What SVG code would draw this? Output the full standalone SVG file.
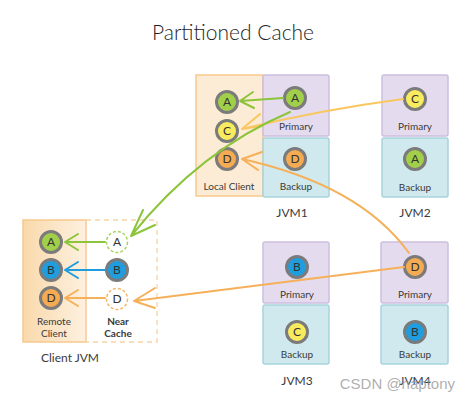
<svg xmlns="http://www.w3.org/2000/svg" width="468" height="403" viewBox="0 0 468 403">
<defs>
<style>
.t{font-family:Lato,"Open Sans","Liberation Sans",sans-serif;fill:#3a3a3a;text-anchor:middle}
.lbl{font-size:10px}
.jvm{font-size:12px}
.ltr{font-size:12px;fill:#333;font-family:Lato,"Open Sans","Liberation Sans",sans-serif;text-anchor:middle}
.pri{fill:#e4dcee;stroke:#cbbfe0;stroke-width:1.5}
.bak{fill:#cfe9ee;stroke:#a6d3dc;stroke-width:1.5}
.loc{fill:#fdecd5;stroke:#f8c98e;stroke-width:1.5}
.ring{stroke:#7b7b7b;stroke-width:3}
.g{fill:#a2cf4a}.y{fill:#f8ec5e}.o{fill:#f6ab52}.b{fill:#1f9ddf}
.ln{fill:none;stroke-width:2;stroke-linecap:round;stroke-linejoin:round}
.lg{stroke:#8cc43c}.ly{stroke:#f9c660}.lo{stroke:#f6b05a}.lb{stroke:#1f9ddf}
</style>
<linearGradient id="rc" x1="0" x2="1" y1="0" y2="0">
<stop offset="0" stop-color="#f9d9ab"/><stop offset="1" stop-color="#fdf1e0"/>
</linearGradient>
</defs>
<rect width="468" height="403" fill="#fff"/>
<text class="t" x="233" y="40" font-size="21" font-weight="300" style="fill:#1e1e1e">Partitioned Cache</text>

<g id="jvm1">
<rect class="loc" x="196" y="75" width="67" height="121"/>
<rect class="pri" x="263" y="75" width="66" height="61" rx="2"/>
<rect class="bak" x="263" y="138" width="66" height="59" rx="2"/>
<circle class="ring g" cx="227" cy="102" r="10.5"/><text class="ltr" x="227" y="106">A</text>
<circle class="ring y" cx="227" cy="131" r="10.5"/><text class="ltr" x="227" y="135">C</text>
<circle class="ring o" cx="227" cy="159" r="10.5"/><text class="ltr" x="227" y="163">D</text>
<circle class="ring g" cx="295" cy="98" r="10.5"/><text class="ltr" x="295" y="102">A</text>
<circle class="ring o" cx="295" cy="159" r="10.5"/><text class="ltr" x="295" y="163">D</text>
<text class="t lbl" x="296" y="130">Primary</text>
<text class="t lbl" x="296" y="190">Backup</text>
<text class="t lbl" x="229" y="190">Local Client</text>
<text class="t jvm" x="292" y="217">JVM1</text>
</g>

<g id="jvm2">
<rect class="pri" x="382" y="75" width="66" height="61" rx="2"/>
<rect class="bak" x="382" y="138" width="66" height="59" rx="2"/>
<circle class="ring y" cx="415" cy="99" r="10.5"/><text class="ltr" x="415" y="103">C</text>
<circle class="ring g" cx="415" cy="159" r="10.5"/><text class="ltr" x="415" y="163">A</text>
<text class="t lbl" x="415" y="130">Primary</text>
<text class="t lbl" x="415" y="191">Backup</text>
<text class="t jvm" x="415" y="217">JVM2</text>
</g>

<g id="jvm3">
<rect class="pri" x="263" y="242" width="66" height="61" rx="2"/>
<rect class="bak" x="263" y="305" width="66" height="59" rx="2"/>
<circle class="ring b" cx="297" cy="267" r="10.5"/><text class="ltr" x="297" y="271">B</text>
<circle class="ring y" cx="297" cy="332" r="10.5"/><text class="ltr" x="297" y="336">C</text>
<text class="t lbl" x="297" y="298">Primary</text>
<text class="t lbl" x="297" y="358">Backup</text>
<text class="t jvm" x="297" y="385">JVM3</text>
</g>

<g id="jvm4">
<rect class="pri" x="381" y="242" width="67" height="61" rx="2"/>
<rect class="bak" x="381" y="305" width="67" height="59" rx="2"/>
<circle class="ring o" cx="415" cy="267" r="10.5"/><text class="ltr" x="415" y="271">D</text>
<circle class="ring b" cx="415" cy="332" r="10.5"/><text class="ltr" x="415" y="336">B</text>
<text class="t lbl" x="415" y="298">Primary</text>
<text class="t lbl" x="415" y="358">Backup</text>
<text class="t jvm" x="415" y="385">JVM4</text>
</g>

<g id="clientjvm">
<rect x="23" y="220" width="63" height="122" fill="url(#rc)" stroke="#f8c98e" stroke-width="1.5"/>
<path d="M86,220 H157 V342 H86" fill="none" stroke="#f8d3a6" stroke-width="1.3" stroke-dasharray="5,4"/>
<circle class="ring g" cx="51" cy="242" r="10.5"/><text class="ltr" x="51" y="246">A</text>
<circle class="ring b" cx="51" cy="270" r="10.5"/><text class="ltr" x="51" y="274">B</text>
<circle class="ring o" cx="51" cy="298" r="10.5"/><text class="ltr" x="51" y="302">D</text>
<circle cx="117" cy="242" r="10.5" fill="#fff" stroke="#a9d460" stroke-width="1.5" stroke-dasharray="3,2"/><text class="ltr" x="117" y="246">A</text>
<circle class="ring b" cx="117" cy="270" r="10.5"/><text class="ltr" x="117" y="274">B</text>
<circle cx="117" cy="299" r="10.5" fill="#fff" stroke="#f7b766" stroke-width="1.5" stroke-dasharray="3,2"/><text class="ltr" x="117" y="303">D</text>
<text class="t lbl" x="54" y="325">Remote</text>
<text class="t lbl" x="54" y="337">Client</text>
<text class="t lbl" x="118" y="325" font-weight="bold">Near</text>
<text class="t lbl" x="118" y="337" font-weight="bold">Cache</text>
<text class="t jvm" x="70" y="362">Client JVM</text>
</g>

<g id="connectors">
<path class="ln lg" d="M283,98 L240,101 M253,92 L240,101 L254,108"/>
<path class="ln ly" d="M403,99 Q320,110 242,129 M260,114 L242,129 L262,126"/>
<path class="ln lo" d="M409,253 Q360,185 242,159 M262,152 L242,159 L258,170"/>
<path class="ln lg" d="M290,112 Q200,150 131,236 M143,210 L131,236 L155,225"/>
<path class="ln lo" d="M404,267 L134,301 M155,288 L134,301 L155,308"/>
<path class="ln lg" d="M105,242 L65,242 M78,234 L65,242 L78,250"/>
<path class="ln lb" d="M105,270 L65,270 M78,262 L65,270 L78,278"/>
<path class="ln lo" d="M105,298 L65,298 M78,290 L65,298 L78,306"/>
</g>

<text x="455" y="389" font-family="'Liberation Sans',Arial,sans-serif" font-size="15" fill="#9a9a9a" fill-opacity="0.8" text-anchor="end">CSDN @haptony</text>
</svg>
